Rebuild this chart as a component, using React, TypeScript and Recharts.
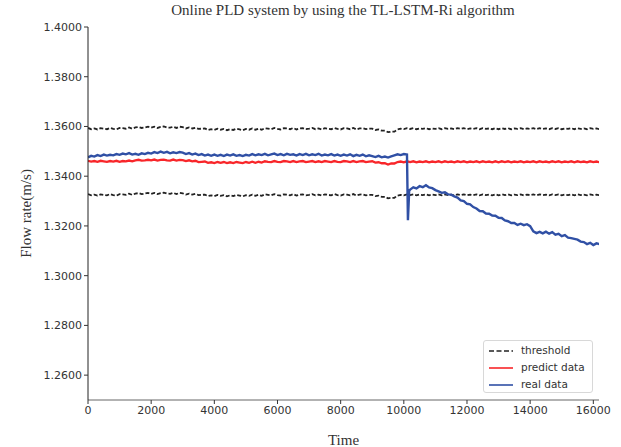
import React from "react";
import { LineChart, Line, XAxis, YAxis } from "recharts";

// time samples: 0 .. 16200 every 100
const times: number[] = Array.from({ length: 163 }, (_, i) => i * 100);

const upperThreshold: number[] = [
  1.3594, 1.3589, 1.3592, 1.3588, 1.3593, 1.3591, 1.3589, 1.3594, 1.3590, 1.3588,
  1.3594, 1.3593, 1.3591, 1.3596, 1.3591, 1.3596, 1.3598, 1.3594, 1.3596, 1.3599,
  1.3595, 1.3599, 1.3594, 1.3598, 1.3600, 1.3596, 1.3595, 1.3599, 1.3594, 1.3599,
  1.3597, 1.3592, 1.3596, 1.3592, 1.3595, 1.3590, 1.3591, 1.3592, 1.3586, 1.3589,
  1.3586, 1.3591, 1.3587, 1.3590, 1.3585, 1.3589, 1.3586, 1.3591, 1.3588, 1.3585,
  1.3590, 1.3587, 1.3592, 1.3587, 1.3591, 1.3587, 1.3593, 1.3591, 1.3589, 1.3594,
  1.3590, 1.3588, 1.3593, 1.3592, 1.3589, 1.3594, 1.3588, 1.3592, 1.3593, 1.3589,
  1.3591, 1.3594, 1.3589, 1.3592, 1.3588, 1.3593, 1.3591, 1.3589, 1.3594, 1.3590,
  1.3588, 1.3593, 1.3592, 1.3589, 1.3594, 1.3588, 1.3592, 1.3593, 1.3589, 1.3591,
  1.3591, 1.3586, 1.3588, 1.3583, 1.3583, 1.3577, 1.3579, 1.3579, 1.3588, 1.3591,
  1.3589, 1.3593, 1.3590, 1.3593, 1.3589, 1.3592, 1.3590, 1.3593, 1.3589, 1.3592,
  1.3590, 1.3593, 1.3589, 1.3593, 1.3590, 1.3592, 1.3589, 1.3593, 1.3590, 1.3593,
  1.3589, 1.3592, 1.3590, 1.3593, 1.3589, 1.3593, 1.3590, 1.3592, 1.3589, 1.3593,
  1.3589, 1.3593, 1.3590, 1.3593, 1.3589, 1.3592, 1.3590, 1.3593, 1.3589, 1.3592,
  1.3590, 1.3593, 1.3589, 1.3593, 1.3590, 1.3592, 1.3589, 1.3593, 1.3590, 1.3593,
  1.3589, 1.3592, 1.3590, 1.3593, 1.3589, 1.3593, 1.3590, 1.3592, 1.3589, 1.3593,
  1.3590, 1.3592, 1.3589,
];

const lowerThreshold: number[] = [
  1.3328, 1.3323, 1.3326, 1.3322, 1.3327, 1.3325, 1.3323, 1.3328, 1.3324, 1.3322,
  1.3328, 1.3327, 1.3325, 1.3330, 1.3325, 1.3330, 1.3332, 1.3328, 1.3330, 1.3333,
  1.3329, 1.3333, 1.3328, 1.3332, 1.3334, 1.3330, 1.3329, 1.3333, 1.3328, 1.3333,
  1.3331, 1.3326, 1.3330, 1.3326, 1.3329, 1.3324, 1.3325, 1.3326, 1.3320, 1.3323,
  1.3320, 1.3325, 1.3321, 1.3324, 1.3319, 1.3323, 1.3320, 1.3325, 1.3322, 1.3319,
  1.3324, 1.3321, 1.3326, 1.3321, 1.3325, 1.3321, 1.3327, 1.3325, 1.3323, 1.3328,
  1.3324, 1.3322, 1.3327, 1.3326, 1.3323, 1.3328, 1.3322, 1.3326, 1.3327, 1.3323,
  1.3325, 1.3328, 1.3323, 1.3326, 1.3322, 1.3327, 1.3325, 1.3323, 1.3328, 1.3324,
  1.3322, 1.3327, 1.3326, 1.3323, 1.3328, 1.3322, 1.3326, 1.3327, 1.3323, 1.3325,
  1.3325, 1.3320, 1.3322, 1.3317, 1.3317, 1.3311, 1.3313, 1.3313, 1.3322, 1.3325,
  1.3323, 1.3327, 1.3324, 1.3327, 1.3323, 1.3326, 1.3324, 1.3327, 1.3323, 1.3326,
  1.3324, 1.3327, 1.3323, 1.3327, 1.3324, 1.3326, 1.3323, 1.3327, 1.3324, 1.3327,
  1.3323, 1.3326, 1.3324, 1.3327, 1.3323, 1.3327, 1.3324, 1.3326, 1.3323, 1.3327,
  1.3323, 1.3327, 1.3324, 1.3327, 1.3323, 1.3326, 1.3324, 1.3327, 1.3323, 1.3326,
  1.3324, 1.3327, 1.3323, 1.3327, 1.3324, 1.3326, 1.3323, 1.3327, 1.3324, 1.3327,
  1.3323, 1.3326, 1.3324, 1.3327, 1.3323, 1.3327, 1.3324, 1.3326, 1.3323, 1.3327,
  1.3324, 1.3326, 1.3323,
];

const predictData: number[] = [
  1.3462, 1.3459, 1.3461, 1.3458, 1.3462, 1.3460, 1.3458, 1.3461, 1.3459, 1.3462,
  1.3458, 1.3461, 1.3460, 1.3463, 1.3460, 1.3464, 1.3466, 1.3463, 1.3464, 1.3466,
  1.3464, 1.3467, 1.3463, 1.3466, 1.3467, 1.3464, 1.3463, 1.3467, 1.3463, 1.3466,
  1.3465, 1.3461, 1.3464, 1.3460, 1.3462, 1.3457, 1.3458, 1.3459, 1.3454, 1.3456,
  1.3453, 1.3457, 1.3454, 1.3457, 1.3453, 1.3456, 1.3453, 1.3457, 1.3455, 1.3453,
  1.3457, 1.3454, 1.3458, 1.3454, 1.3458, 1.3455, 1.3460, 1.3458, 1.3457, 1.3461,
  1.3458, 1.3457, 1.3461, 1.3460, 1.3457, 1.3461, 1.3457, 1.3460, 1.3461, 1.3457,
  1.3459, 1.3461, 1.3457, 1.3460, 1.3457, 1.3461, 1.3459, 1.3457, 1.3461, 1.3458,
  1.3457, 1.3461, 1.3460, 1.3457, 1.3461, 1.3457, 1.3460, 1.3461, 1.3457, 1.3459,
  1.3460, 1.3455, 1.3456, 1.3452, 1.3452, 1.3447, 1.3451, 1.3451, 1.3457, 1.3459,
  1.3456, 1.3460, 1.3457, 1.3460, 1.3456, 1.3459, 1.3457, 1.3460, 1.3456, 1.3459,
  1.3457, 1.3460, 1.3456, 1.3460, 1.3457, 1.3459, 1.3456, 1.3460, 1.3457, 1.3460,
  1.3456, 1.3459, 1.3457, 1.3460, 1.3456, 1.3460, 1.3457, 1.3459, 1.3456, 1.3460,
  1.3456, 1.3460, 1.3457, 1.3460, 1.3456, 1.3459, 1.3457, 1.3460, 1.3456, 1.3459,
  1.3457, 1.3460, 1.3456, 1.3460, 1.3457, 1.3459, 1.3456, 1.3460, 1.3457, 1.3460,
  1.3456, 1.3459, 1.3457, 1.3460, 1.3456, 1.3460, 1.3457, 1.3459, 1.3456, 1.3460,
  1.3457, 1.3459, 1.3456,
];

const realData: number[] = [
  1.3476, 1.3482, 1.3479, 1.3485, 1.3481, 1.3487, 1.3483, 1.3486, 1.3484, 1.3489,
  1.3486, 1.3491, 1.3488, 1.3493, 1.3487, 1.3490, 1.3486, 1.3492, 1.3489, 1.3494,
  1.3491, 1.3497, 1.3493, 1.3499, 1.3494, 1.3498, 1.3492, 1.3496, 1.3493, 1.3497,
  1.3495, 1.3489, 1.3493, 1.3487, 1.3491, 1.3485, 1.3489, 1.3483, 1.3487, 1.3482,
  1.3487, 1.3482, 1.3486, 1.3481, 1.3487, 1.3483, 1.3488, 1.3482, 1.3485, 1.3481,
  1.3486, 1.3483, 1.3489, 1.3484, 1.3488, 1.3485, 1.3490, 1.3484, 1.3488, 1.3491,
  1.3485, 1.3489, 1.3484, 1.3490, 1.3486, 1.3488, 1.3483, 1.3489, 1.3485, 1.3490,
  1.3484, 1.3488, 1.3485, 1.3490, 1.3483, 1.3487, 1.3484, 1.3489, 1.3483, 1.3487,
  1.3482, 1.3487, 1.3483, 1.3488, 1.3481, 1.3486, 1.3482, 1.3487, 1.3480, 1.3484,
  1.3481, 1.3477, 1.3482, 1.3476, 1.3479, 1.3475, 1.3480, 1.3484, 1.3488, 1.3485,
  1.3489, 1.3487, 1.3346, 1.3355, 1.3351, 1.3360, 1.3356, 1.3364, 1.3355, 1.3352,
  1.3344, 1.3339, 1.3333, 1.3335, 1.3327, 1.3326, 1.3319, 1.3314, 1.3303, 1.3300,
  1.3289, 1.3287, 1.3276, 1.3270, 1.3260, 1.3259, 1.3250, 1.3249, 1.3242, 1.3241,
  1.3233, 1.3232, 1.3222, 1.3219, 1.3212, 1.3212, 1.3204, 1.3209, 1.3203, 1.3207,
  1.3199, 1.3178, 1.3171, 1.3176, 1.3170, 1.3177, 1.3169, 1.3175, 1.3165, 1.3168,
  1.3159, 1.3163, 1.3153, 1.3151, 1.3148, 1.3145, 1.3137, 1.3135, 1.3127, 1.3132,
  1.3123, 1.3130, 1.3127,
];

// extra samples of the sharp drop in the real data just after t = 10100
const dropTimes: number[] = [10130, 10170];
const dropReal: number[] = [1.3223, 1.3342];

const xTicks: number[] = [0, 2000, 4000, 6000, 8000, 10000, 12000, 14000, 16000];
const yTicks: number[] = [1.26, 1.28, 1.3, 1.32, 1.34, 1.36, 1.38, 1.4];

type Row = {
  time: number;
  upper: number | null;
  lower: number | null;
  predict: number | null;
  real: number | null;
};

const rows: Row[] = [
  ...times.map((t, i) => ({
    time: t,
    upper: upperThreshold[i],
    lower: lowerThreshold[i],
    predict: predictData[i],
    real: realData[i],
  })),
  ...dropTimes.map((t, i) => ({
    time: t,
    upper: null,
    lower: null,
    predict: null,
    real: dropReal[i],
  })),
].sort((a, b) => a.time - b.time);

const BLACK = "#222222";
const RED = "#f8262a";
const BLUE = "#3050a5";
const TEXT = "#333333";

const legendItems = [
  { label: "threshold", color: BLACK, dash: "5 2.5" },
  { label: "predict data", color: RED, dash: undefined as string | undefined },
  { label: "real data", color: BLUE, dash: undefined as string | undefined },
];

const LegendBox = () => (
  <div
    style={{
      position: "absolute",
      left: 483,
      top: 340,
      width: 110,
      height: 53,
      boxSizing: "border-box",
      border: "1px solid #d8d8d8",
      borderRadius: 3,
      background: "#fff",
      padding: "1px 0 0 5px",
      fontFamily: "'DejaVu Sans', sans-serif",
      fontSize: 10.5,
      color: TEXT,
      lineHeight: "17px",
      whiteSpace: "nowrap",
    }}
  >
    {legendItems.map((it) => (
      <div key={it.label} style={{ display: "flex", alignItems: "center", height: 17 }}>
        <svg width={24} height={10} style={{ marginRight: 8 }}>
          <line
            x1={0}
            y1={5}
            x2={24}
            y2={5}
            stroke={it.color}
            strokeWidth={1.6}
            strokeDasharray={it.dash}
          />
        </svg>
        <span>{it.label}</span>
      </div>
    ))}
  </div>
);

export default function App() {
  return (
    <div style={{ position: "absolute", left: 0, top: 0, width: 621, height: 447, background: "#fff" }}>
      <div
        style={{
          position: "absolute",
          left: 0,
          top: 2,
          width: 686,
          textAlign: "center",
          fontFamily: "'Liberation Serif', serif",
          fontSize: 15,
          color: TEXT,
        }}
      >
        Online PLD system by using the TL-LSTM-Ri algorithm
      </div>
      <LineChart
        width={621}
        height={447}
        data={rows}
        margin={{ top: 27, right: 22, bottom: 0, left: 0 }}
      >
        <XAxis
          dataKey="time"
          type="number"
          domain={[0, 16180]}
          ticks={xTicks}
          height={47}
          allowDataOverflow
          stroke="#666"
          tickSize={4}
          tickLine={{ stroke: "#333" }}
          tick={{ fontFamily: "'DejaVu Sans', sans-serif", fontSize: 11, fill: TEXT }}
          label={{
            value: "Time",
            position: "insideBottom",
            offset: 2,
            style: { fontFamily: "'Liberation Serif', serif", fontSize: 15, fill: TEXT },
          }}
        />
        <XAxis
          xAxisId="top"
          orientation="top"
          dataKey="time"
          type="number"
          domain={[0, 16180]}
          height={0}
          tick={false}
          tickLine={false}
          stroke="#222"
        />
        <YAxis
          type="number"
          domain={[1.25, 1.4]}
          ticks={yTicks}
          width={88}
          allowDataOverflow
          stroke="#222"
          tickSize={4}
          tickLine={{ stroke: "#333" }}
          tickFormatter={(v: number) => v.toFixed(4)}
          tick={{ fontFamily: "'DejaVu Sans', sans-serif", fontSize: 11, fill: TEXT }}
          label={{
            value: "Flow rate(m/s)",
            angle: -90,
            position: "insideLeft",
            offset: 26,
            style: { fontFamily: "'Liberation Serif', serif", fontSize: 15, fill: TEXT, textAnchor: "middle" },
          }}
        />
        <YAxis
          yAxisId="right"
          orientation="right"
          domain={[1.25, 1.4]}
          width={0}
          tick={false}
          tickLine={false}
          stroke="#666"
        />
        <Line
          dataKey="upper"
          stroke={BLACK}
          strokeWidth={1.8}
          strokeDasharray="4 2"
          dot={false}
          connectNulls
          isAnimationActive={false}
        />
        <Line
          dataKey="lower"
          stroke={BLACK}
          strokeWidth={1.8}
          strokeDasharray="4 2"
          dot={false}
          connectNulls
          isAnimationActive={false}
        />
        <Line
          dataKey="predict"
          stroke={RED}
          strokeWidth={2.3}
          dot={false}
          connectNulls
          isAnimationActive={false}
        />
        <Line
          dataKey="real"
          stroke={BLUE}
          strokeWidth={2.4}
          dot={false}
          connectNulls
          isAnimationActive={false}
        />
      </LineChart>
      <LegendBox />
    </div>
  );
}
